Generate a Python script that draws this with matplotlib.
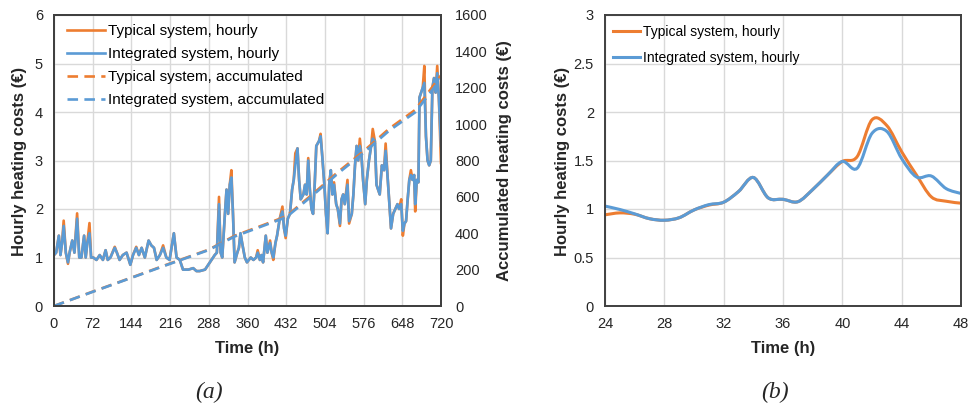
import numpy as np
import matplotlib
matplotlib.use("Agg")
import matplotlib.pyplot as plt
from matplotlib.path import Path
from matplotlib.patches import PathPatch
from matplotlib.lines import Line2D

plt.rcParams['font.family'] = ['Liberation Sans', 'DejaVu Sans']

ORANGE = '#ED7D31'
BLUE = '#5B9BD5'
GRID = '#D9D9D9'
DARK = '#404040'

# ---------------- (a) 720 h overview ----------------
hour_t = [0, 4, 9, 12, 15, 18, 22, 26, 29, 34, 38, 43, 47, 51, 56, 59, 62, 66, 69, 73,
          79, 85, 91, 96, 100, 105, 113, 117, 122, 128, 135, 142, 147, 153, 158, 163, 169,
          176, 181, 186, 191, 197, 203, 209, 215, 223, 228, 234, 240, 250, 259, 265, 271,
          281, 287, 293, 299, 303, 307, 310, 313, 318, 321, 324, 327, 330, 333, 336, 341,
          344, 347, 350, 355, 359, 366, 371, 376, 379, 383, 386, 389, 394, 397, 402, 405,
          408, 412, 415, 420, 425, 428, 431, 435, 439, 443, 446, 449, 453, 456, 459, 464,
          467, 470, 473, 476, 479, 482, 485, 488, 493, 496, 499, 503, 506, 509, 512, 515,
          518, 521, 525, 528, 532, 535, 538, 541, 546, 549, 554, 557, 560, 563, 566, 569,
          572, 575, 579, 582, 586, 590, 593, 597, 600, 603, 606, 610, 614, 617, 621, 624,
          627, 631, 635, 639, 642, 646, 649, 652, 655, 658, 661, 664, 667, 670, 672, 675,
          678, 680, 683, 686, 689, 692, 695, 698, 701, 704, 707, 710, 713, 716, 720]

int_hourly = [1.05, 1.10, 1.45, 1.05, 1.30, 1.65, 1.10, 0.90, 1.10, 1.35, 1.10, 1.80, 1.00, 1.00,
              1.45, 1.00, 1.30, 1.50, 1.00, 1.00,
              0.95, 1.05, 0.95, 1.15, 0.95, 1.00, 1.20, 1.10, 0.95, 1.05, 1.10, 0.85, 1.05,
              1.20, 1.05, 1.20, 1.00, 1.35, 1.25, 1.20, 0.95, 1.05, 1.20, 1.00, 0.95, 1.50,
              1.00, 0.95, 0.75, 0.75, 0.78, 0.72, 0.72, 0.75, 0.85, 0.95, 1.05, 1.10, 2.10,
              1.10, 1.00, 1.90, 2.40, 1.90, 2.50, 2.65, 1.90, 0.90, 1.10, 1.20, 1.50, 1.30,
              1.00, 0.90, 1.00, 0.95, 1.00, 1.10, 0.95, 1.05, 0.90, 1.45, 1.10, 1.30, 1.10,
              1.00, 1.30, 1.45, 1.80, 1.95, 1.60, 1.45, 1.80, 1.90, 2.40, 2.60, 2.90, 3.25,
              2.60, 2.20, 2.30, 2.50, 2.30, 3.00, 2.40, 2.00, 1.90, 2.50, 3.30, 3.40, 3.50,
              3.10, 2.50, 1.90, 1.50, 2.50, 2.80, 2.30, 2.50, 2.10, 2.00, 1.70, 2.20, 2.30,
              2.10, 2.50, 1.75, 1.90, 2.30, 2.90, 3.30, 3.00, 3.30, 3.10, 2.60, 2.10, 2.60,
              3.00, 3.30, 3.45, 3.40, 2.50, 2.40, 2.30, 2.90, 2.80, 3.20, 2.60, 2.10, 1.60,
              1.90, 2.00, 2.10, 2.00, 2.10, 1.55, 1.70, 1.75, 2.20, 2.60, 2.70, 2.60, 2.70,
              2.10, 2.60, 2.55, 4.30, 4.40, 4.50, 4.60, 3.50, 3.00, 2.90, 3.00, 4.50, 4.70,
              4.40, 4.80, 4.30, 3.30]

typ_hourly = [1.05, 1.10, 1.45, 1.05, 1.30, 1.76, 1.10, 0.87, 1.10, 1.35, 1.10, 1.91, 1.00, 1.00,
              1.45, 1.00, 1.30, 1.71, 1.00, 1.00,
              0.95, 1.05, 0.95, 1.15, 0.95, 1.00, 1.22, 1.10, 0.95, 1.05, 1.10, 0.85, 1.05,
              1.22, 1.05, 1.20, 1.00, 1.35, 1.25, 1.20, 0.95, 1.05, 1.25, 1.00, 0.95, 1.50,
              1.00, 0.95, 0.75, 0.75, 0.78, 0.72, 0.72, 0.75, 0.85, 0.95, 1.05, 1.10, 2.25,
              1.10, 1.00, 1.90, 2.40, 1.90, 2.50, 2.80, 1.90, 0.90, 1.10, 1.20, 1.50, 1.30,
              1.00, 0.90, 1.00, 0.95, 1.00, 1.15, 0.95, 1.05, 0.90, 1.45, 1.10, 1.35, 1.10,
              0.95, 1.30, 1.45, 1.80, 2.05, 1.60, 1.40, 1.80, 1.90, 2.40, 2.60, 3.15, 3.25,
              2.60, 2.20, 2.30, 2.50, 2.30, 3.05, 2.40, 2.00, 1.90, 2.50, 3.30, 3.40, 3.55,
              3.10, 2.50, 1.90, 1.50, 2.50, 2.80, 2.30, 2.55, 2.10, 2.00, 1.65, 2.20, 2.30,
              2.10, 2.60, 1.70, 1.90, 2.30, 2.90, 3.30, 3.00, 3.45, 3.10, 2.60, 2.10, 2.60,
              3.00, 3.30, 3.65, 3.40, 2.50, 2.40, 2.30, 2.90, 2.80, 3.35, 2.60, 2.10, 1.60,
              1.90, 2.00, 2.10, 2.00, 2.20, 1.45, 1.70, 1.75, 2.20, 2.60, 2.80, 2.60, 2.70,
              1.95, 2.60, 2.55, 4.30, 4.40, 4.50, 4.95, 3.50, 3.00, 2.90, 3.00, 4.50, 4.70,
              4.40, 4.95, 4.30, 2.95]

acc_t = [0, 72, 144, 216, 288, 336, 384, 432, 480, 528, 576, 624, 672, 720]
acc_int = [0, 78, 155, 232, 308, 382, 435, 488, 605, 728, 842, 965, 1065, 1250]
acc_typ = [0, 79, 156, 234, 310, 386, 439, 493, 612, 736, 851, 976, 1078, 1268]

xticks_a = list(range(0, 721, 72))
yticks_a = [0, 1, 2, 3, 4, 5, 6]
yticks_a2 = list(range(0, 1601, 200))

# ---------------- (b) zoom 24-48 h ----------------
zoom_t = list(range(24, 49))
zoom_typ = [0.94, 0.96, 0.946, 0.90, 0.884, 0.91, 0.99, 1.04, 1.07, 1.18, 1.325, 1.115, 1.10,
            1.075, 1.20, 1.35, 1.49, 1.54, 1.92, 1.86, 1.59, 1.35, 1.125, 1.08, 1.06]
zoom_int = [1.03, 0.995, 0.95, 0.90, 0.884, 0.91, 0.99, 1.045, 1.07, 1.18, 1.325, 1.115, 1.10,
            1.075, 1.20, 1.35, 1.49, 1.42, 1.78, 1.80, 1.52, 1.33, 1.34, 1.21, 1.16]
xticks_b = list(range(24, 49, 4))
yticks_b = [0, 0.5, 1, 1.5, 2, 2.5, 3]

labels = ['Typical system, hourly', 'Integrated system, hourly',
          'Typical system, accumulated', 'Integrated system, accumulated']


def smooth_path(x, y):
    """Excel-like smoothed line (cubic Bezier through the points)."""
    x = np.asarray(x, float)
    y = np.asarray(y, float)
    n = len(x)
    verts = [(x[0], y[0])]
    codes = [Path.MOVETO]
    for i in range(n - 1):
        xm, ym = (x[i - 1], y[i - 1]) if i > 0 else (x[i], y[i])
        xp, yp = (x[i + 2], y[i + 2]) if i + 2 < n else (x[i + 1], y[i + 1])
        c1 = (x[i] + (x[i + 1] - xm) / 6.0, y[i] + (y[i + 1] - ym) / 6.0)
        c2 = (x[i + 1] - (xp - x[i]) / 6.0, y[i + 1] - (yp - y[i]) / 6.0)
        verts += [c1, c2, (x[i + 1], y[i + 1])]
        codes += [Path.CURVE4] * 3
    return Path(verts, codes)


W, H = 969, 408
fig = plt.figure(figsize=(W / 100, H / 100), dpi=100)

def style_axes(ax):
    ax.grid(True, color=GRID, lw=1.0)
    ax.set_axisbelow(True)
    for s in ax.spines.values():
        s.set_color(DARK)
        s.set_linewidth(1.4)
    ax.tick_params(length=0, labelsize=10.5, labelcolor='#262626', pad=8)

# ---- panel (a)
axA = fig.add_axes([54 / W, (H - 306) / H, 387 / W, 291 / H])
style_axes(axA)
axA.plot(hour_t, typ_hourly, color=ORANGE, lw=1.9, label=labels[0])
axA.plot(hour_t, int_hourly, color=BLUE, lw=1.9, label=labels[1])
axA.set_xlim(0, 720)
axA.set_ylim(0, 6)
axA.set_xticks(xticks_a)
axA.set_yticks(yticks_a)

axA2 = axA.twinx()
axA2.plot(acc_t, acc_typ, color=ORANGE, lw=1.9, dashes=(4, 2.4), label=labels[2])
axA2.plot(acc_t, acc_int, color=BLUE, lw=1.9, dashes=(4, 2.4), label=labels[3])
axA2.set_ylim(0, 1600)
axA2.set_yticks(yticks_a2)
for s in axA2.spines.values():
    s.set_color(DARK)
    s.set_linewidth(1.4)
axA2.tick_params(length=0, labelsize=10.5, labelcolor='#262626', pad=10)

hA = [Line2D([], [], color=ORANGE, lw=1.9),
      Line2D([], [], color=BLUE, lw=1.9),
      Line2D([], [], color=ORANGE, lw=1.9, dashes=(4, 2.4)),
      Line2D([], [], color=BLUE, lw=1.9, dashes=(4, 2.4))]
axA2.legend(hA, labels, loc='upper left', bbox_to_anchor=(0.034, 0.968),
            frameon=False, fontsize=11, handlelength=2.5, handletextpad=0.2,
            labelspacing=0.58, borderpad=0, borderaxespad=0)

# ---- panel (b)
axB = fig.add_axes([605 / W, (H - 306) / H, 356 / W, 291 / H])
style_axes(axB)
axB.add_patch(PathPatch(smooth_path(zoom_t, zoom_typ), fill=False, edgecolor=ORANGE,
                        lw=2.2, transform=axB.transData))
axB.add_patch(PathPatch(smooth_path(zoom_t, zoom_int), fill=False, edgecolor=BLUE,
                        lw=2.2, transform=axB.transData))
axB.set_xlim(24, 48)
axB.set_ylim(0, 3)
axB.set_xticks(xticks_b)
axB.set_yticks(yticks_b)
axB.set_yticklabels(['0', '0.5', '1', '1.5', '2', '2.5', '3'])
hB = [Line2D([], [], color=ORANGE, lw=2.2), Line2D([], [], color=BLUE, lw=2.2)]
axB.legend(hB, labels[:2], loc='upper left', bbox_to_anchor=(0.022, 0.965),
           frameon=False, fontsize=10, handlelength=1.95, handletextpad=0.2,
           labelspacing=0.85, borderpad=0, borderaxespad=0)

# ---- labels
lab_kw = dict(fontsize=12, fontweight='bold', color='#262626', ha='center', va='center')
fig.text(20 / W, 1 - 161 / H, 'Hourly heating costs (€)', rotation=90, **lab_kw)
fig.text(505 / W, 1 - 161 / H, 'Accumulated heating costs (€)', rotation=90, **lab_kw)
fig.text(562 / W, 1 - 161 / H, 'Hourly heating costs (€)', rotation=90, **lab_kw)
fig.text(247.5 / W, 1 - 349 / H, 'Time (h)', **lab_kw)
fig.text(783 / W, 1 - 349 / H, 'Time (h)', **lab_kw)

cap_kw = dict(fontsize=17, style='italic', family=['Liberation Serif', 'DejaVu Serif'],
              color='#262626', ha='center', va='center')
fig.text(209 / W, 1 - 392 / H, '(a)', **cap_kw)
fig.text(775 / W, 1 - 392 / H, '(b)', **cap_kw)

fig.savefig('out.png', dpi=100)
